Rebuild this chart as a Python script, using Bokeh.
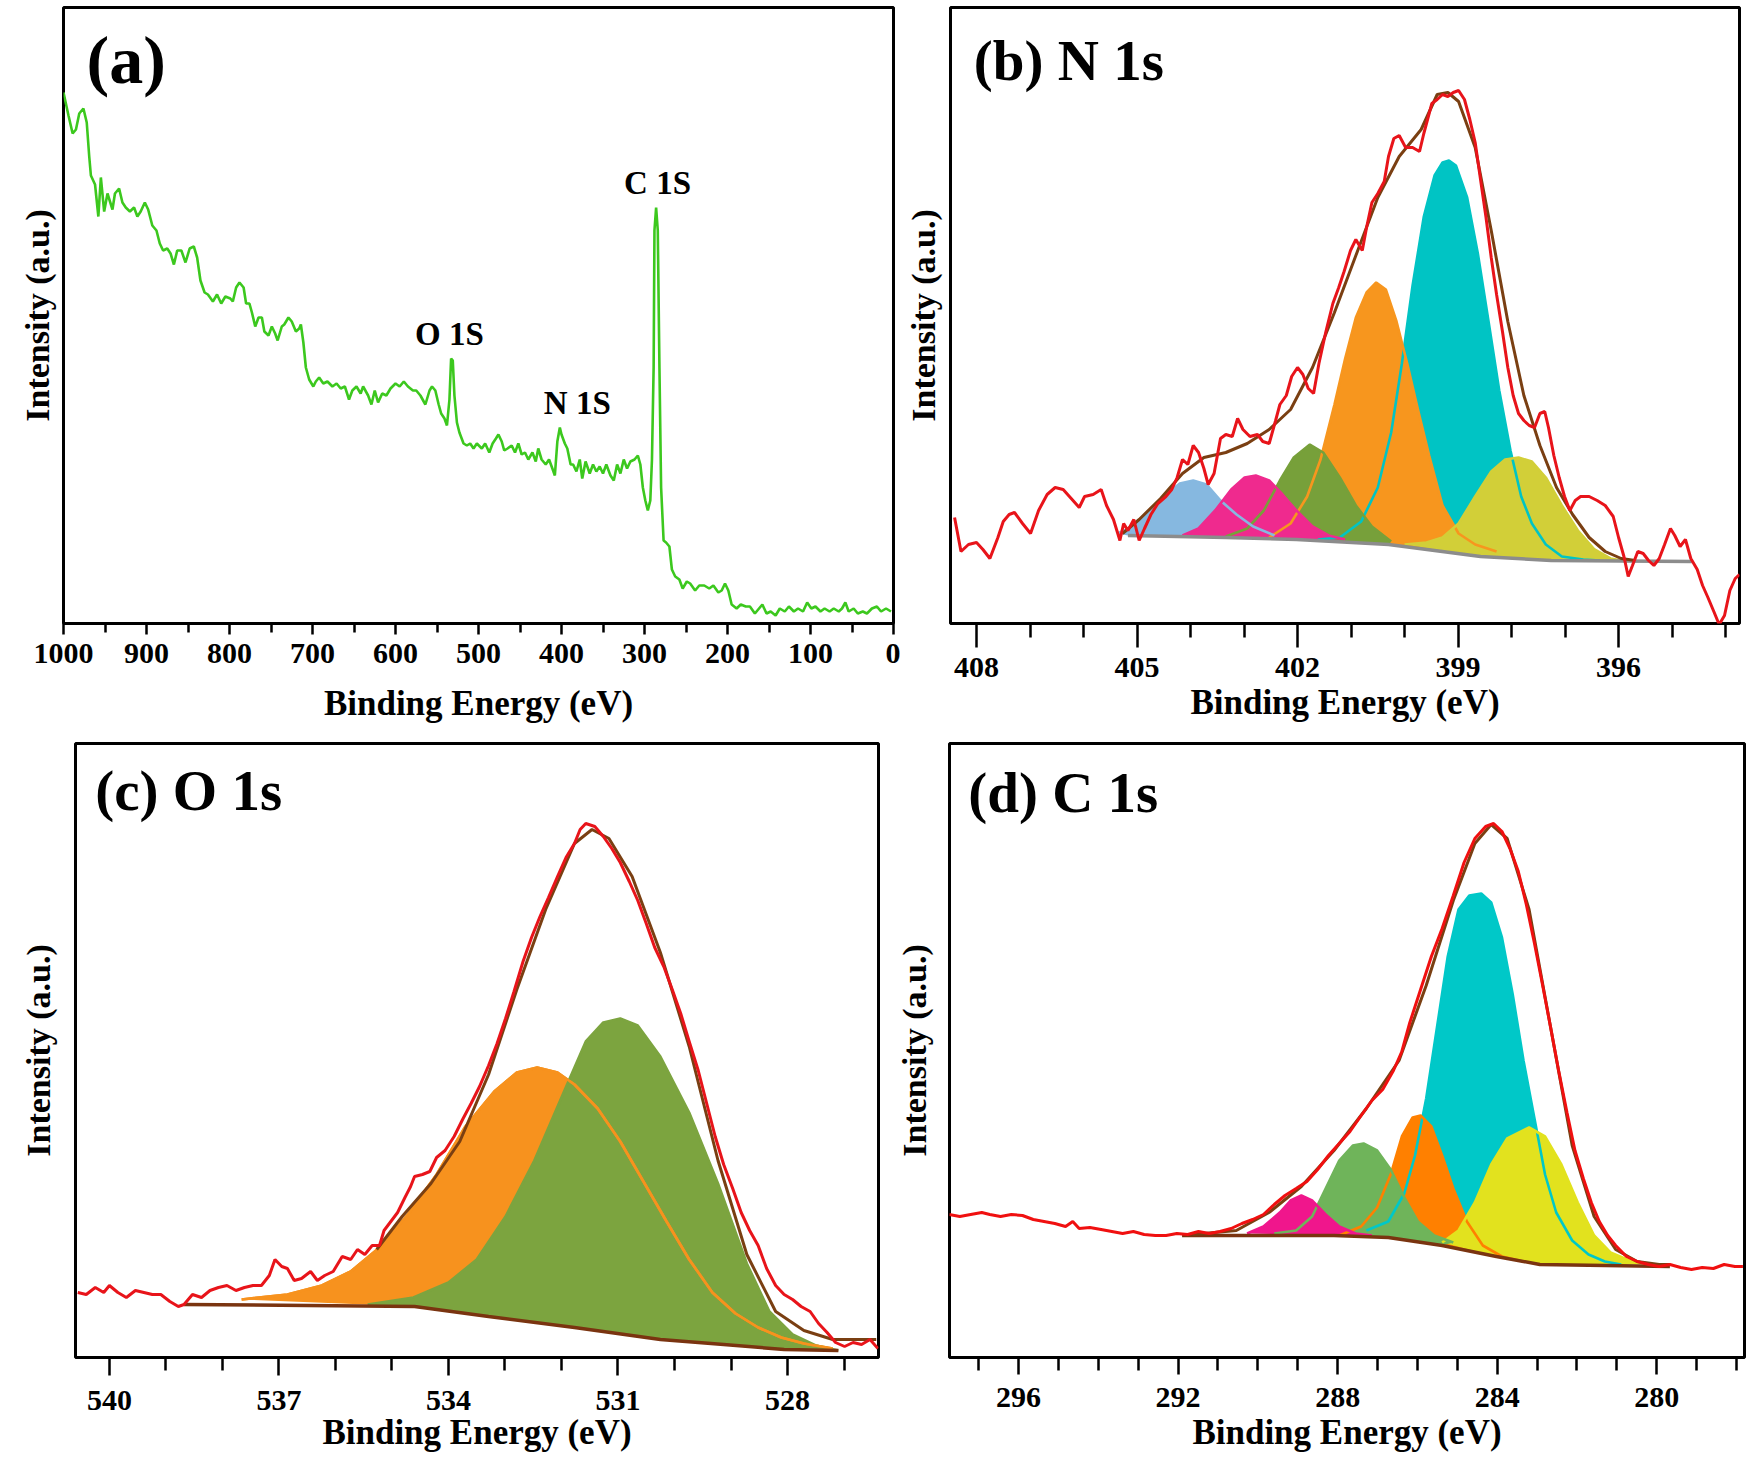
from bokeh.plotting import figure
from bokeh.layouts import column, row
from bokeh.models import Range1d, FixedTicker, Label
from bokeh.embed import file_html
from bokeh.resources import INLINE

FONT = "Liberation Serif"

# ---------------- (a) survey spectrum: (binding energy eV, intensity a.u.)
A_SURVEY = [(1000,528),(994,505),(989,487),(985,491),(981,507),(976,512),(972,498),(969,464),(967,445),(962,436),(958,404),(955,443),(951,409),(947,427),(941,411),(938,427),(933,432),(929,418),(925,413),(920,409),(915,413),(911,404),(907,409),(902,418),(898,411),(893,395),(888,390),(884,377),(880,370),(875,372),(871,367),(867,356),(863,370),(858,370),(853,358),(848,372),(843,374),(839,363),(835,340),(830,328),(826,326),(820,319),(815,326),(810,317),(805,324),(799,322),(796,319),(792,333),(788,338),(783,333),(780,317),(776,317),(773,308),(769,294),(765,303),(761,303),(758,289),(753,285),(749,294),(745,287),(742,280),(737,294),(734,296),(729,303),(725,299),(720,289),(716,292),(714,296),(711,278),(708,253),(704,241),(699,234),(696,239),(692,243),(687,237),(682,239),(676,234),(671,237),(666,232),(661,234),(656,221),(652,230),(647,234),(642,227),(639,234),(633,225),(629,216),(625,230),(621,218),(616,227),(611,225),(606,232),(600,237),(595,234),(590,239),(585,234),(579,230),(575,230),(570,225),(564,216),(559,230),(556,234),(552,230),(548,216),(545,207),(541,202),(538,195),(535,221),(533,262),(531,260),(529,225),(526,198),(523,188),(518,177),(514,175),(510,177),(506,172),(502,177),(496,172),(492,177),(487,168),(483,177),(479,182),(476,186),(472,179),(469,170),(465,172),(460,175),(456,168),(452,177),(448,166),(444,168),(440,161),(435,168),(431,159),(428,172),(424,161),(419,156),(415,161),(411,152),(408,145),(405,179),(402,193),(400,186),(396,177),(393,172),(389,156),(386,156),(382,149),(378,161),(375,142),(371,159),(366,147),(362,156),(358,149),(354,154),(350,147),(346,156),(341,145),(337,140),(333,156),(329,147),(325,161),(321,152),(317,159),(312,161),(308,165),(305,156),(302,133),(299,120),(296,110),(293,120),(291,161),(289,253),(288,390),(286,413),(284,390),(282,253),(280,133),(277,80),(274,78),(270,74),(267,51),(263,44),(258,41),(254,32),(249,39),(245,37),(239,30),(234,35),(228,35),(222,32),(217,35),(211,28),(207,30),(203,37),(199,30),(195,16),(189,12),(184,16),(178,14),(173,14),(167,7),(162,12),(158,16),(153,7),(148,9),(142,5),(137,12),(131,9),(126,14),(120,9),(115,12),(109,9),(104,18),(99,12),(94,14),(88,9),(83,12),(77,9),(72,12),(66,9),(62,12),(58,18),(54,9),(48,12),(43,7),(37,9),(32,7),(26,12),(20,14),(15,9),(9,12),(3,9)]
A_PEAK_LABELS = ["C 1S", "O 1S", "N 1S"]
A_PEAK_POS = [(284.3, 438), (535, 287), (381, 218)]
A_TICKS = [0, 100, 200, 300, 400, 500, 600, 700, 800, 900, 1000]
A_MINOR = [50, 150, 250, 350, 450, 550, 650, 750, 850, 950]

# ---------------- (b) N 1s
B_RAW = [(408.41,110),(408.29,76),(408.15,83),(408.0,85),(407.88,78),(407.75,69),(407.6,90),(407.5,106),(407.39,113),(407.29,115),(407.14,104),(406.99,94),(406.84,117),(406.68,133),(406.53,140),(406.38,138),(406.23,129),(406.08,120),(405.98,131),(405.82,133),(405.67,138),(405.57,122),(405.44,108),(405.32,87),(405.25,104),(405.17,97),(405.06,108),(404.96,87),(404.86,99),(404.74,113),(404.61,124),(404.46,131),(404.35,138),(404.25,150),(404.15,168),(404.05,163),(403.95,182),(403.85,175),(403.75,159),(403.67,143),(403.56,154),(403.44,189),(403.34,193),(403.22,191),(403.12,209),(403.02,198),(402.89,191),(402.75,193),(402.65,186),(402.53,184),(402.41,207),(402.33,223),(402.21,232),(402.11,251),(402.0,260),(401.9,253),(401.8,239),(401.7,234),(401.6,264),(401.47,296),(401.34,324),(401.23,340),(401.13,356),(401.01,377),(400.91,388),(400.79,377),(400.71,400),(400.61,425),(400.5,434),(400.38,446),(400.3,471),(400.2,489),(400.1,492),(399.98,480),(399.85,480),(399.72,476),(399.64,494),(399.57,508),(399.49,524),(399.39,528),(399.29,533),(399.19,531),(399.09,535),(398.99,537),(398.88,528),(398.78,508),(398.68,485),(398.58,448),(398.48,411),(398.38,370),(398.28,333),(398.17,296),(398.07,260),(397.97,232),(397.87,214),(397.77,207),(397.67,202),(397.57,200),(397.47,214),(397.38,216),(397.31,200),(397.21,172),(397.11,150),(397.01,131),(396.91,117),(396.81,127),(396.71,131),(396.55,131),(396.4,127),(396.25,122),(396.1,111),(396.0,90),(395.9,71),(395.82,51),(395.74,62),(395.64,76),(395.54,74),(395.44,67),(395.34,62),(395.24,69),(395.14,83),(395.03,99),(394.95,92),(394.85,81),(394.75,88),(394.65,69),(394.53,58),(394.43,42),(394.33,30),(394.22,16),(394.12,3),(394.02,12),(393.92,37),(393.82,49),(393.74,53)]
B_ENV = [(405.27,94),(404.96,108),(404.56,129),(404.15,154),(403.75,170),(403.34,175),(402.94,184),(402.53,198),(402.13,218),(401.72,260),(401.31,315),(400.91,372),(400.5,430),(400.1,471),(399.69,498),(399.39,533),(399.19,535),(398.99,526),(398.68,480),(398.38,397),(398.07,306),(397.77,232),(397.47,182),(397.16,140),(396.86,113),(396.55,90),(396.25,76),(395.95,69),(395.69,67)]
B_BASE = [(405.17,92),(403.34,90),(402.02,88),(400.3,83),(398.58,71),(397.26,67),(394.63,66)]
B_LBLUE = [(405.37,94),(405.06,101),(404.76,117),(404.46,133),(404.2,144),(403.95,147),(403.7,143),(403.44,127),(403.14,113),(402.83,101),(402.43,92)]
B_PINK = [(404.15,92),(403.85,99),(403.54,117),(403.24,138),(402.99,150),(402.78,152),(402.53,147),(402.28,133),(402.02,117),(401.72,101),(401.42,92),(401.11,88)]
B_GREEN = [(403.34,91),(402.94,99),(402.63,117),(402.33,147),(402.07,170),(401.77,183),(401.52,175),(401.21,150),(400.91,122),(400.61,101),(400.25,86)]
B_ORANGE = [(402.53,90),(402.13,104),(401.82,131),(401.57,168),(401.31,223),(401.11,269),(400.91,310),(400.71,335),(400.53,345),(400.35,338),(400.15,306),(399.95,264),(399.75,218),(399.54,172),(399.29,122),(398.99,94),(398.68,83),(398.28,76)]
B_CYAN = [(401.62,88),(401.21,90),(400.81,106),(400.5,140),(400.25,195),(400.05,264),(399.85,342),(399.64,411),(399.44,452),(399.29,465),(399.17,467),(399.04,462),(398.83,430),(398.63,374),(398.43,306),(398.23,237),(398.02,177),(397.82,131),(397.62,104),(397.36,83),(397.06,71),(396.66,68),(396.35,67)]
B_YELLOW = [(400.0,83),(399.59,85),(399.29,90),(398.99,104),(398.68,131),(398.38,156),(398.12,168),(397.87,170),(397.62,166),(397.36,150),(397.06,122),(396.76,97),(396.45,78),(396.15,69),(395.84,66)]
B_TICKS = [396, 399, 402, 405, 408]
B_MINOR = [394, 395, 397, 398, 400, 401, 403, 404, 406, 407]

# ---------------- (c) O 1s
C_RAW = [(540.56,71),(540.41,69),(540.25,76),(540.1,71),(540.0,78),(539.85,71),(539.7,66),(539.54,73),(539.39,71),(539.24,69),(539.09,69),(538.93,62),(538.78,57),(538.68,59),(538.53,69),(538.37,66),(538.22,73),(538.07,76),(537.92,78),(537.76,73),(537.61,76),(537.46,78),(537.31,78),(537.17,88),(537.07,104),(536.95,97),(536.85,95),(536.73,83),(536.6,85),(536.44,92),(536.32,83),(536.19,88),(536.04,92),(535.88,107),(535.73,104),(535.61,114),(535.48,109),(535.35,118),(535.22,118),(535.14,133),(535.02,142),(534.9,151),(534.77,166),(534.67,177),(534.6,187),(534.46,189),(534.33,192),(534.21,206),(534.06,213),(533.9,227),(533.75,244),(533.6,260),(533.45,277),(533.29,298),(533.14,320),(532.99,345),(532.84,372),(532.68,402),(532.53,426),(532.38,447),(532.23,466),(532.07,487),(531.92,506),(531.77,520),(531.67,534),(531.57,540),(531.41,537),(531.26,527),(531.11,515),(530.96,501),(530.8,482),(530.65,463),(530.5,440),(530.35,416),(530.19,397),(530.04,374),(529.89,350),(529.74,322),(529.58,293),(529.43,260),(529.28,227),(529.13,199),(528.97,175),(528.82,151),(528.67,133),(528.52,118),(528.37,95),(528.21,78),(528.06,69),(527.91,64),(527.76,57),(527.6,52),(527.45,40),(527.3,31),(527.15,21),(526.99,17),(526.84,21),(526.69,19),(526.54,24),(526.4,15)]
C_ENV = [(535.27,114),(534.82,147),(534.31,180),(533.8,222),(533.29,289),(532.79,374),(532.28,454),(531.77,520),(531.46,534),(531.16,525),(530.75,487),(530.25,411),(529.74,317),(529.23,203),(528.72,109),(528.21,52),(527.71,33),(527.2,24),(526.79,24),(526.43,24)]
C_BASE = [(538.68,59),(534.6,57),(533.29,47),(531.77,36),(530.25,24),(529.13,19),(528.06,14),(527.1,13)]
C_ORANGE = [(537.66,64),(536.85,69),(536.24,78),(535.73,92),(535.22,116),(534.72,149),(534.21,189),(533.7,237),(533.19,272),(532.79,291),(532.43,296),(532.07,291),(531.77,279),(531.36,255),(530.96,222),(530.55,182),(530.14,142),(529.74,104),(529.33,71),(528.92,50),(528.52,36),(528.11,26),(527.71,20),(527.2,15)]
C_GREEN = [(535.43,59),(534.62,66),(534.0,81),(533.5,104),(532.99,147),(532.48,203),(531.97,270),(531.57,322),(531.26,341),(530.96,345),(530.65,338),(530.25,307),(529.74,251),(529.23,180),(528.72,100),(528.32,52),(527.91,29),(527.5,18),(527.1,13)]
C_TICKS = [528, 531, 534, 537, 540]
C_MINOR = [527, 529, 530, 532, 533, 535, 536, 538, 539]

# ---------------- (d) C 1s
D_RAW = [(297.74,143),(297.47,141),(297.2,143),(296.92,145),(296.72,143),(296.45,141),(296.18,143),(295.9,142),(295.63,138),(295.36,136),(295.09,134),(294.82,131),(294.64,136),(294.48,129),(294.21,130),(293.93,128),(293.66,126),(293.39,124),(293.12,126),(292.85,123),(292.57,122),(292.3,122),(292.03,124),(291.76,123),(291.49,126),(291.22,124),(290.95,126),(290.67,129),(290.4,134),(290.13,138),(289.86,143),(289.59,153),(289.32,162),(289.04,169),(288.77,176),(288.5,188),(288.23,202),(287.96,214),(287.69,226),(287.41,242),(287.14,257),(286.87,268),(286.6,287),(286.39,306),(286.19,335),(285.92,368),(285.65,401),(285.38,429),(285.1,462),(284.83,495),(284.56,519),(284.29,531),(284.09,534),(283.88,526),(283.68,509),(283.47,486),(283.27,453),(283.07,415),(282.86,372),(282.66,330),(282.46,287),(282.25,245),(282.05,207),(281.84,179),(281.64,155),(281.44,136),(281.23,122),(281.03,112),(280.76,101),(280.49,96),(280.21,93),(279.94,91),(279.67,93),(279.4,90),(279.13,88),(278.86,90),(278.58,89),(278.31,93),(278.04,91),(277.84,91)]
D_ENV = [(291.62,123),(290.54,127),(289.72,145),(288.91,171),(288.09,207),(287.28,249),(286.46,297),(285.78,372),(285.1,457),(284.56,514),(284.15,533),(283.75,519),(283.2,448),(282.66,330),(282.12,212),(281.57,141),(281.03,108),(280.49,96),(279.94,93),(279.67,93)]
D_BASE = [(291.9,122),(288.09,122),(286.73,120),(285.38,112),(284.02,101),(282.93,93),(279.67,91)]
D_PINK = [(290.27,124),(289.86,131),(289.45,145),(289.18,157),(288.91,162),(288.64,157),(288.3,143),(287.96,131),(287.55,124),(287.14,122)]
D_GREEN = [(289.59,124),(289.04,127),(288.64,141),(288.3,169),(287.96,197),(287.62,212),(287.35,214),(287.01,207),(286.67,188),(286.33,160),(285.99,136),(285.58,122),(285.1,115)]
D_ORANGE = [(287.96,122),(287.41,131),(287.01,150),(286.67,183),(286.39,221),(286.12,240),(285.92,242),(285.65,231),(285.38,202),(285.1,169),(284.76,136),(284.36,112),(283.88,101),(283.34,96)]
D_CYAN = [(287.28,127),(286.73,136),(286.33,164),(286.06,202),(285.78,259),(285.51,330),(285.24,401),(284.97,448),(284.7,462),(284.4,464),(284.15,455),(283.88,420),(283.61,363),(283.34,297),(283.07,240),(282.8,183),(282.52,145),(282.12,117),(281.71,103),(281.3,96),(280.89,93)]
D_YELLOW = [(285.38,115),(284.97,127),(284.56,155),(284.15,193),(283.75,219),(283.2,230),(282.8,221),(282.39,193),(281.98,155),(281.57,122),(281.16,105),(280.62,96),(280.08,93)]
D_TICKS = [280, 284, 288, 292, 296]
D_MINOR = [278, 279, 281, 282, 283, 285, 286, 287, 289, 290, 291, 293, 294, 295, 297]

RED = "#e8141a"
BROWN = "#7a3f12"


def xy(pairs):
    return [p[0] for p in pairs], [p[1] for p in pairs]


def make_fig(w, h, bl, br, bt, bb, xr, yr):
    p = figure(width=w, height=h, x_range=Range1d(*xr), y_range=Range1d(*yr),
               output_backend="svg", toolbar_location=None,
               min_border_left=bl, min_border_right=br, min_border_top=bt, min_border_bottom=bb)
    p.grid.visible = False
    p.outline_line_color = "black"
    p.outline_line_width = 3
    p.outline_line_alpha = 1.0
    p.background_fill_color = "white"
    p.border_fill_color = "white"
    return p


def style_axes(p, major, minor, tick_out, minor_out, lab_standoff, title_standoff, ylab_standoff):
    xa = p.xaxis[0]
    xa.ticker = FixedTicker(ticks=major, minor_ticks=minor)
    xa.axis_line_color = None
    xa.major_tick_in = 0
    xa.major_tick_out = tick_out
    xa.minor_tick_in = 0
    xa.minor_tick_out = minor_out
    xa.major_tick_line_width = 2.5
    xa.minor_tick_line_width = 2.5
    xa.major_tick_line_color = "black"
    xa.minor_tick_line_color = "black"
    xa.major_label_text_font = FONT
    xa.major_label_text_font_size = "30px"
    xa.major_label_text_font_style = "bold"
    xa.major_label_text_color = "black"
    xa.major_label_standoff = lab_standoff
    xa.axis_label = "Binding Energy (eV)"
    xa.axis_label_text_font = FONT
    xa.axis_label_text_font_size = "35px"
    xa.axis_label_text_font_style = "bold"
    xa.axis_label_text_color = "black"
    xa.axis_label_standoff = title_standoff
    ya = p.yaxis[0]
    ya.ticker = FixedTicker(ticks=[])
    ya.axis_line_color = None
    ya.major_tick_in = 0
    ya.major_tick_out = 0
    ya.minor_tick_in = 0
    ya.minor_tick_out = 0
    ya.major_label_text_font_size = "0px"
    ya.major_label_standoff = 0
    ya.axis_label = "Intensity (a.u.)"
    ya.axis_label_text_font = FONT
    ya.axis_label_text_font_size = "34px"
    ya.axis_label_text_font_style = "bold"
    ya.axis_label_text_color = "black"
    ya.axis_label_standoff = ylab_standoff


def panel_label(p, x, y, text, size):
    p.add_layout(Label(x=x, y=y, x_units="data", y_units="data", text=text,
                       text_font=FONT, text_font_size=size, text_font_style="bold",
                       text_color="black", text_align="left", text_baseline="alphabetic"))


def component_polygon(curve, base):
    cx, cy = xy(curve)
    hi, lo = max(cx), min(cx)
    bpts = [b for b in base if lo < b[0] < hi]
    bpts.sort(key=lambda b: b[0])  # curve runs high->low energy; close back along baseline
    px = cx + [b[0] for b in bpts]
    py = cy + [b[1] for b in bpts]
    return px, py


def draw_components(p, comps, fill_order, base):
    for name in fill_order:
        curve, color = comps[name]
        px, py = component_polygon(curve, base)
        p.patch(px, py, fill_color=color, line_color=None, fill_alpha=1.0)
    for name in fill_order:
        curve, color = comps[name]
        cx, cy = xy(curve)
        p.line(cx, cy, line_color=color, line_width=2.6)


# Top row: frames share top/bottom borders (7 / 109); bottom row: 11 / 104.
# ---------- figure (a)
pa = make_fig(900, 732, 63, 7, 7, 109, (1000, 0), (-3, 613))
style_axes(pa, A_TICKS, A_MINOR, 11, 9, 9, 18, 8)
ax, ay = xy(A_SURVEY)
pa.line(ax, ay, line_color="#3cc81e", line_width=2.6)
for txt, (px_, py_) in zip(A_PEAK_LABELS, A_PEAK_POS):
    pa.add_layout(Label(x=px_, y=py_, text=txt, text_font=FONT, text_font_size="33px",
                        text_font_style="bold", text_color="black", text_align="center",
                        text_baseline="alphabetic"))
panel_label(pa, 972.3, 561, "(a)", "68px")

# ---------- figure (b)
pb = make_fig(848, 732, 50, 9, 7, 109, (408.486, 393.74), (4, 620))
style_axes(pb, B_TICKS, B_MINOR, 24, 14, 10, 3, 9)
b_comps = {
    "cyan": (B_CYAN, "#00c4c4"),
    "orange": (B_ORANGE, "#f7961e"),
    "yellow": (B_YELLOW, "#d2cf38"),
    "green": (B_GREEN, "#77a03a"),
    "lblue": (B_LBLUE, "#86b8e0"),
    "pink": (B_PINK, "#ef2a8e"),
}
draw_components(pb, b_comps, ["cyan", "orange", "yellow", "green", "lblue", "pink"], B_BASE)
bx, by = xy(B_BASE)
pb.line(bx, by, line_color="#8c8c8c", line_width=3.5)
ex, ey = xy(B_ENV)
pb.line(ex, ey, line_color=BROWN, line_width=3)
rx, ry = xy(B_RAW)
pb.line(rx, ry, line_color=RED, line_width=3)
panel_label(pb, 408.05, 567, "(b) N 1s", "57px")

# ---------- figure (c)
pc = make_fig(890, 729, 75, 12, 11, 104, (540.60, 526.39), (6, 620))
style_axes(pc, C_TICKS, C_MINOR, 18, 13, 15, 0, 19)
c_comps = {
    "orange": (C_ORANGE, "#f7921e"),
    "green": (C_GREEN, "#7ca43f"),
}
draw_components(pc, c_comps, ["orange", "green"], C_BASE)
ox, oy = xy(C_ORANGE)
pc.line(ox, oy, line_color="#f7921e", line_width=2.6)
bx, by = xy(C_BASE)
pc.line(bx, by, line_color="#7a3410", line_width=3.5)
ex, ey = xy(C_ENV)
pc.line(ex, ey, line_color=BROWN, line_width=3)
rx, ry = xy(C_RAW)
pc.line(rx, ry, line_color=RED, line_width=3)
panel_label(pc, 540.25, 573, "(c) O 1s", "57px")

# ---------- figure (d)
pd_ = make_fig(858, 729, 59, 4, 11, 104, (297.73, 277.80), (0, 614))
style_axes(pd_, D_TICKS, D_MINOR, 17, 13, 13, 3, 17)
d_comps = {
    "cyan": (D_CYAN, "#00c8c8"),
    "orange": (D_ORANGE, "#ff8000"),
    "yellow": (D_YELLOW, "#e2e21e"),
    "green": (D_GREEN, "#6fb45a"),
    "pink": (D_PINK, "#f0168c"),
}
draw_components(pd_, d_comps, ["cyan", "orange", "yellow", "green", "pink"], D_BASE)
bx, by = xy(D_BASE)
pd_.line(bx, by, line_color="#7a3410", line_width=3.5)
ex, ey = xy(D_ENV)
pd_.line(ex, ey, line_color=BROWN, line_width=3)
rx, ry = xy(D_RAW)
pd_.line(rx, ry, line_color="#f01010", line_width=3)
panel_label(pd_, 297.26, 565, "(d) C 1s", "57px")

layout = column(row(pa, pb, spacing=0), row(pc, pd_, spacing=0), spacing=0)
open("out.html", "w").write(file_html(layout, INLINE))
